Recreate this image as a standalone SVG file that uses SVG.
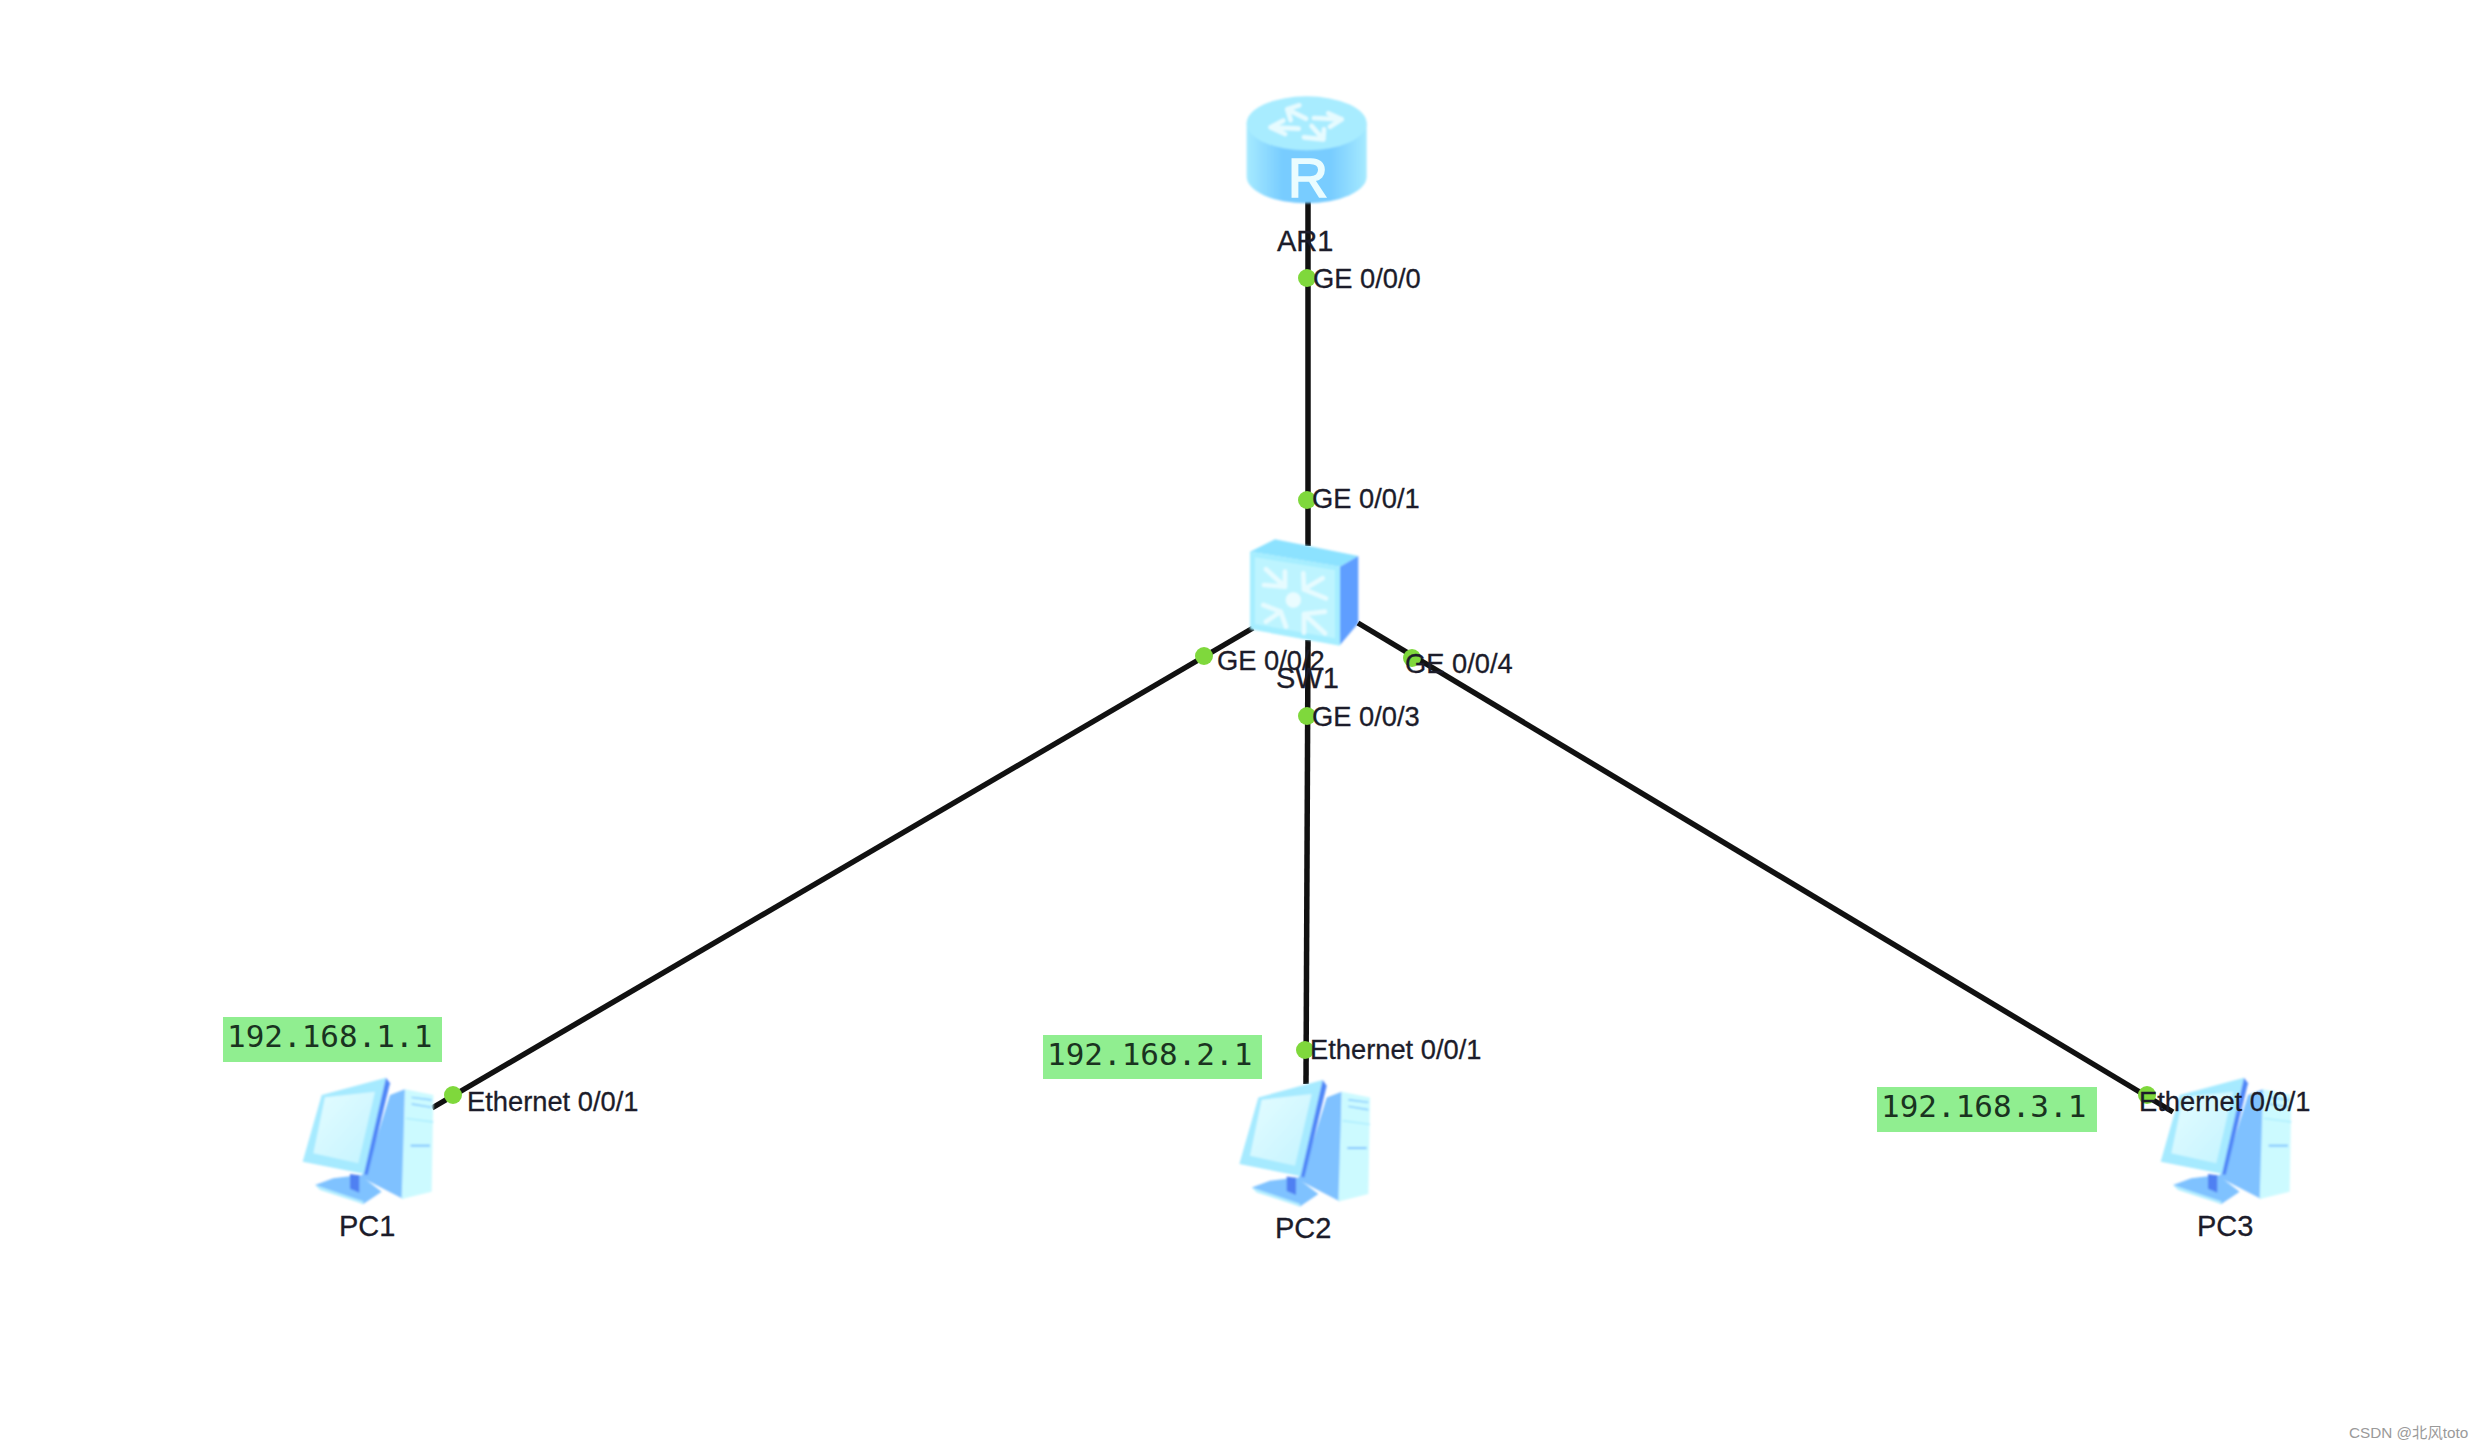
<svg xmlns="http://www.w3.org/2000/svg" xmlns:xlink="http://www.w3.org/1999/xlink" width="2483" height="1449" viewBox="0 0 2483 1449">
<style>
.lnk{stroke:#111;stroke-width:5.5;fill:none}
.dot{fill:#7fd83c}
.t{font-family:"Liberation Sans",Arial,sans-serif;fill:#1c1c2a;stroke:#1c1c2a;stroke-width:.3}
.port{font-size:27.3px}
.name{font-size:29px}
.ip{fill:#90ee90}
.ipt{font-family:"DejaVu Sans Mono","Liberation Mono",monospace;font-size:31px;fill:#1a3320}
.wm{font-family:"Liberation Sans","Noto Sans CJK SC",sans-serif;font-size:15.3px;fill:#9a9a9a}
.ar{fill:none;stroke:#e6fbff;stroke-width:14;stroke-linecap:round;stroke-linejoin:round}
</style>
<defs>
<filter id="b" x="-5%" y="-5%" width="110%" height="110%"><feGaussianBlur stdDeviation="2.4"/></filter>
<linearGradient id="rb" x1="0" x2="1" y1="0" y2="0">
<stop offset="0" stop-color="#a6eaff"/><stop offset=".3" stop-color="#78ccff"/><stop offset=".7" stop-color="#78ccff"/><stop offset="1" stop-color="#a6eaff"/>
</linearGradient>
<linearGradient id="sc" x1="0" x2="1" y1="0" y2="1">
<stop offset="0" stop-color="#e4fcff"/><stop offset="1" stop-color="#c4f4ff"/>
</linearGradient>
<g id="pc" filter="url(#b)">
<polygon points="345,555 400,535 480,525 545,575 490,612" fill="#7fc2ff"/>
<polygon points="345,555 490,604 490,612 360,570" fill="#b4eeff"/>
<polygon points="450,522 478,526 478,578 450,566" fill="#4f80f2"/>
<polygon points="570,285 615,268 610,597 480,530 500,510" fill="#7fc1ff"/>
<polygon points="615,268 700,285 695,575 605,597" fill="#ccfaff"/>
<path d="M635,292 L695,300 M635,312 L695,322" stroke="#7fc8ff" stroke-width="4" fill="none"/>
<path d="M618,355 L700,366" stroke="#a8ecff" stroke-width="4" fill="none"/>
<path d="M632,437 L690,437" stroke="#7fc4ff" stroke-width="6" fill="none"/>
<polygon points="365,285 558,233 495,522 308,485" fill="#a6eaff"/>
<polygon points="375,292 525,275 475,490 340,460" fill="url(#sc)"/>
<polygon points="558,233 570,250 503,525 492,522" fill="#4f86f7"/>
</g>
</defs>
<rect width="2483" height="1449" fill="#fff"/>
<g id="connectors">
<line class="lnk" x1="1308" y1="200" x2="1308" y2="546"/>
<line class="lnk" x1="1308" y1="640" x2="1306" y2="1084"/>
<line class="lnk" x1="1253" y1="628" x2="432" y2="1108"/>
</g>
<g id="AR1">
<g transform="translate(1200,70) scale(.3333)" filter="url(#b)">
<path d="M140,160 V320 A180,80 0 0 0 500,320 V160 Z" fill="url(#rb)"/>
<ellipse cx="320" cy="160" rx="180" ry="81" fill="#a8ecff"/>
<path class="ar" d="M262,118 L318,146 M262,118 L298,106 M262,118 L272,150"/>
<path class="ar" d="M342,144 L425,148 M425,148 L385,130 M425,148 L390,170"/>
<path class="ar" d="M370,208 L335,168 M370,208 L312,202 M370,208 L372,178"/>
<path class="ar" d="M296,176 L212,172 M212,172 L250,152 M212,172 L255,192"/>
</g>
<text x="1308" y="197" text-anchor="middle" font-family="Liberation Sans, sans-serif" font-size="56" fill="#eafcff" stroke="#eafcff" stroke-width="1.5">R</text>
<text class="t name" x="1277" y="251">AR1</text>
</g>
<g id="SW1">
<g transform="translate(1160,470) scale(.3333)" filter="url(#b)">
<polygon points="270,245 345,208 595,258 540,290" fill="#8ce2ff"/>
<polygon points="540,290 595,258 595,460 540,525" fill="#5f9eff"/>
<polygon points="270,245 540,290 540,527 270,478" fill="#a6eeff"/>
<polygon points="285,262 525,300 525,505 285,462" fill="#bdf4ff"/>
<circle cx="400" cy="390" r="23" fill="#eafcff"/>
<path class="ar" d="M375,350 L375,305 M375,350 L312,345 M375,350 L318,298"/>
<path class="ar" d="M432,358 L430,310 M432,358 L498,385 M432,358 L488,325"/>
<path class="ar" d="M362,425 L310,405 M362,425 L378,470 M362,425 L318,455"/>
<path class="ar" d="M432,432 L495,425 M432,432 L432,488 M432,432 L495,490"/>
</g>
<text class="t name" x="1276" y="688">SW1</text>
</g>
<g id="PC1">
<use xlink:href="#pc" href="#pc" transform="translate(200,1000) scale(.3333)"/>
<text class="t name" x="339" y="1236">PC1</text>
</g>
<g id="PC2">
<use xlink:href="#pc" href="#pc" transform="translate(1136.7,1002.4) scale(.3333)"/>
<text class="t name" x="1275" y="1238">PC2</text>
</g>
<g id="PC3">
<use xlink:href="#pc" href="#pc" transform="translate(2058,1000) scale(.3333)"/>
<text class="t name" x="2197" y="1236">PC3</text>
</g>
<g id="connectors-top">
<line class="lnk" x1="1358" y1="623" x2="2173" y2="1112"/>
</g>
<g id="ports">
<circle class="dot" cx="1307" cy="278" r="9"/>
<circle class="dot" cx="1307" cy="500" r="9"/>
<circle class="dot" cx="1204" cy="656" r="9"/>
<circle class="dot" cx="1307" cy="716" r="9"/>
<circle class="dot" cx="1412" cy="658" r="9"/>
<circle class="dot" cx="453" cy="1095" r="9"/>
<circle class="dot" cx="1305" cy="1050" r="9"/>
<circle class="dot" cx="2147" cy="1095" r="9"/>
<text class="t port" x="1313" y="288">GE 0/0/0</text>
<text class="t port" x="1312" y="508">GE 0/0/1</text>
<text class="t port" x="1217" y="670">GE 0/0/2</text>
<text class="t port" x="1312" y="726">GE 0/0/3</text>
<text class="t port" x="1405" y="673">GE 0/0/4</text>
<text class="t port" x="467" y="1111">Ethernet 0/0/1</text>
<text class="t port" x="1310" y="1059">Ethernet 0/0/1</text>
<text class="t port" x="2139" y="1111">Ethernet 0/0/1</text>
</g>
<g id="ip1"><rect class="ip" x="223" y="1017" width="219" height="45"/><text class="ipt" x="227" y="1047">192.168.1.1</text></g>
<g id="ip2"><rect class="ip" x="1043" y="1035" width="219" height="44"/><text class="ipt" x="1047" y="1065">192.168.2.1</text></g>
<g id="ip3"><rect class="ip" x="1877" y="1087" width="220" height="45"/><text class="ipt" x="1881" y="1117">192.168.3.1</text></g>
<text class="wm" x="2349" y="1438">CSDN @北风toto</text>
</svg>
